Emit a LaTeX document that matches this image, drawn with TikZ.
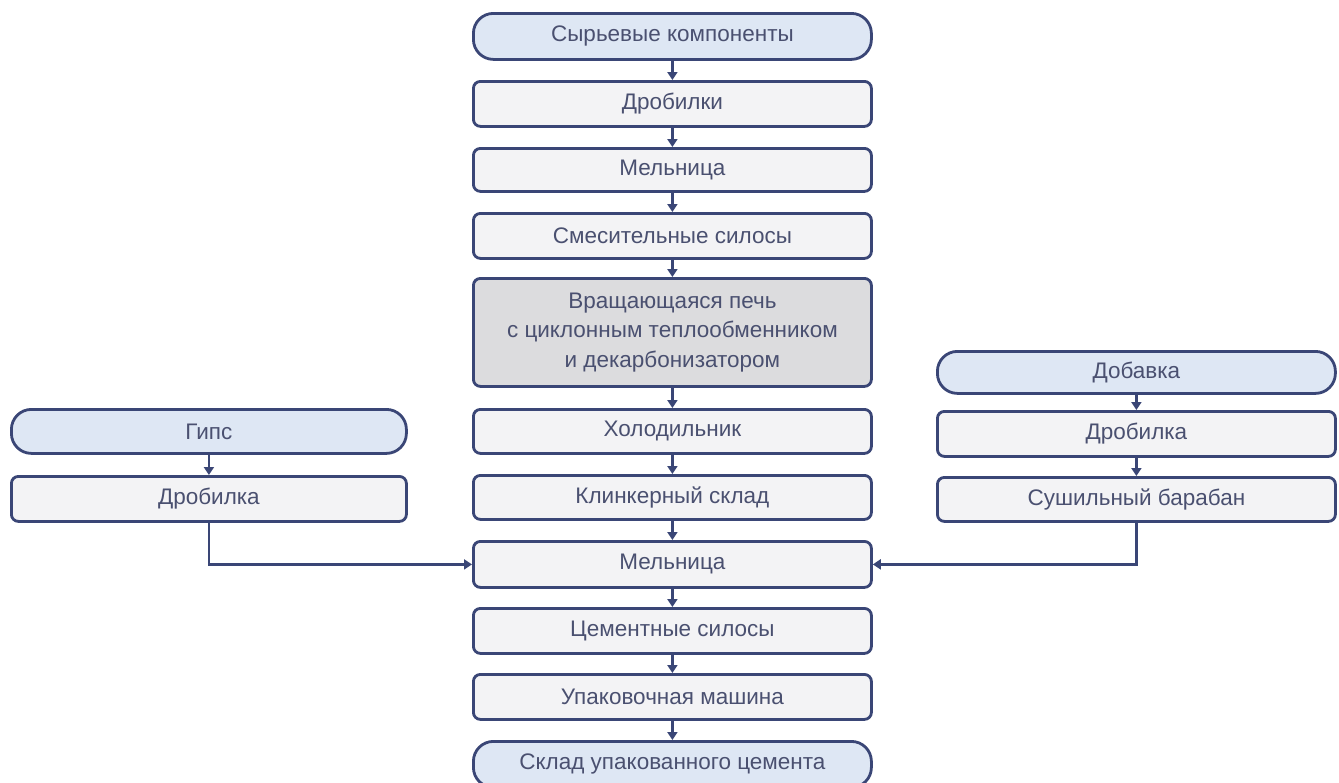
\documentclass[tikz,border=0pt]{standalone}
\usepackage{fontspec}
\setmainfont{Liberation Sans}
\usetikzlibrary{arrows.meta}
\definecolor{edge}{HTML}{3A4676}
\definecolor{ink}{HTML}{4A5070}
\definecolor{boxfill}{HTML}{F3F3F5}
\definecolor{pillfill}{HTML}{DEE7F4}
\definecolor{kilnfill}{HTML}{DCDCDE}
\begin{document}
\begin{tikzpicture}[x=1pt,y=-1pt,
  base/.style={draw=edge,line width=2.8pt,text=ink,font=\fontsize{22.5}{29.5}\selectfont,
    inner sep=0pt,align=center,anchor=north west},
  stepbox/.style={base,fill=boxfill,rounded corners=7pt},
  pill/.style={base,fill=pillfill,rounded corners=20pt},
  kiln/.style={base,fill=kilnfill,rounded corners=7pt},
  flow/.style={draw=edge,line width=2.4pt,-{Triangle[length=8pt,width=10pt]}}]
\useasboundingbox (0,0) rectangle (1339,782);
% central column
\node[pill,minimum width=398pt,minimum height=46pt] (raw) at (472,12) {Сырьевые компоненты};
\node[stepbox,minimum width=398pt,minimum height=45pt] (crush) at (472,80) {Дробилки};
\node[stepbox,minimum width=398pt,minimum height=43pt] (mill1) at (472,147) {Мельница};
\node[stepbox,minimum width=398pt,minimum height=45pt] (silo1) at (472,212) {Смесительные силосы};
\node[kiln,minimum width=398pt,minimum height=108pt] (kiln) at (472,277) {Вращающаяся печь\\с циклонным теплообменником\\и декарбонизатором};
\node[stepbox,minimum width=398pt,minimum height=44pt] (cool) at (472,408) {Холодильник};
\node[stepbox,minimum width=398pt,minimum height=44pt] (clink) at (472,474) {Клинкерный склад};
\node[stepbox,minimum width=398pt,minimum height=46pt] (mill2) at (472,540) {Мельница};
\node[stepbox,minimum width=398pt,minimum height=45pt] (silo2) at (472,607) {Цементные силосы};
\node[stepbox,minimum width=398pt,minimum height=45pt] (pack) at (472,673) {Упаковочная машина};
\node[pill,minimum width=398pt,minimum height=46pt] (store) at (472,740) {Склад упакованного цемента};
% left column
\node[pill,minimum width=395pt,minimum height=44pt] (gyps) at (10,408) {Гипс};
\node[stepbox,minimum width=395pt,minimum height=45pt] (gcrush) at (10,475) {Дробилка};
% right column
\node[pill,minimum width=398pt,minimum height=42pt] (add) at (936,350) {Добавка};
\node[stepbox,minimum width=398pt,minimum height=45pt] (acrush) at (936,410) {Дробилка};
\node[stepbox,minimum width=398pt,minimum height=44pt] (dryer) at (936,476) {Сушильный барабан};
% connectors
\foreach \a/\b in {raw/crush,crush/mill1,mill1/silo1,silo1/kiln,kiln/cool,cool/clink,clink/mill2,mill2/silo2,silo2/pack,pack/store,gyps/gcrush,add/acrush,acrush/dryer}
  \draw[flow] (\a.south) -- (\b.north);
\draw[flow] (gcrush.south) |- (mill2.west);
\draw[flow] (dryer.south) |- (mill2.east);
\end{tikzpicture}
\end{document}
